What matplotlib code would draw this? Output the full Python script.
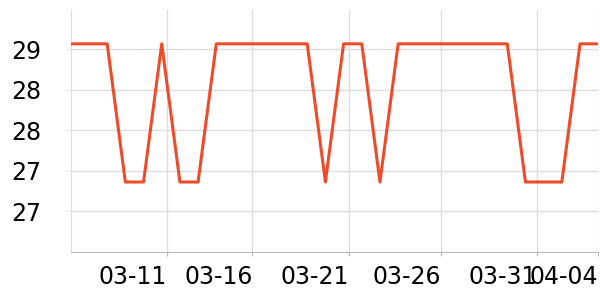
import matplotlib
matplotlib.use('Agg')
import matplotlib.pyplot as plt
import numpy as np

# daily values 03-06 .. 04-04
dates = ['03-06', '03-07', '03-08', '03-09', '03-10', '03-11', '03-12', '03-13',
         '03-14', '03-15', '03-16', '03-17', '03-18', '03-19', '03-20', '03-21',
         '03-22', '03-23', '03-24', '03-25', '03-26', '03-27', '03-28', '03-29',
         '03-30', '03-31', '04-01', '04-02', '04-03', '04-04']
hi = 29.07
lo = 27.36
values = [hi, hi, hi, lo, lo, hi, lo, lo, hi, hi, hi, hi, hi, hi, lo, hi,
          hi, lo, hi, hi, hi, hi, hi, hi, hi, lo, lo, lo, hi, hi]

tick_labels = ['03-11', '03-16', '03-21', '03-26', '03-31', '04-04']
tick_pos = [5.28, 9.99, 15.27, 20.35, 25.63, 29]
ytick_vals = [27, 27.5, 28, 28.5, 29]

x = np.arange(len(dates))

fig = plt.figure(figsize=(6, 3), dpi=100)
ax = fig.add_axes([0.118, 0.159, 0.879, 0.808])

ax.plot(x, values, color='#ee4b2b', linewidth=2.2, zorder=3)

ax.set_xlim(0, 29)
ax.set_ylim(26.49, 29.49)

ax.set_yticks(ytick_vals)
ax.set_yticklabels([str(int(v)) for v in ytick_vals])
ax.set_xticks(tick_pos)
ax.set_xticklabels(tick_labels, ha='right')

ax.grid(True, color='#dddddd', linewidth=1)
ax.set_axisbelow(True)
for s in ['top', 'right']:
    ax.spines[s].set_visible(False)
ax.spines['bottom'].set_color('#b8b8b8')
ax.spines['left'].set_color('#dddddd')
ax.tick_params(axis='both', labelsize=17, colors='#dddddd', labelcolor='black', length=3)
ax.tick_params(axis='y', pad=18)
ax.tick_params(axis='x', pad=6, colors='#b8b8b8')
ax.tick_params(axis='x', labelcolor='black')

plt.savefig('out.png', dpi=100)
